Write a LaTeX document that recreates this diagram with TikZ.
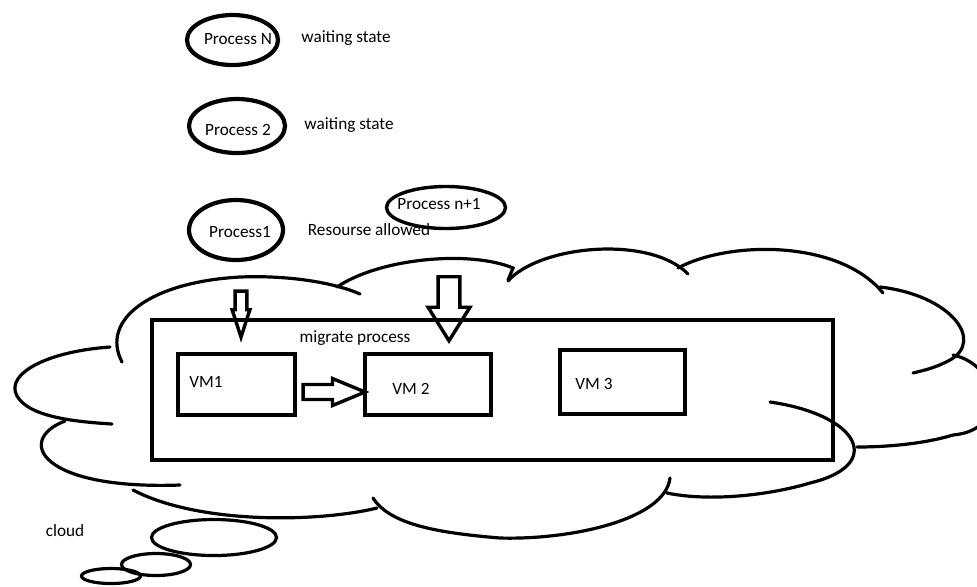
\documentclass[tikz,border=0pt]{standalone}
\usepackage{fontspec}
\setmainfont{Carlito}
\usetikzlibrary{shapes.geometric,shapes.arrows}

\tikzset{
    proc/.style={ellipse, draw, line width=2.1pt, inner sep=0pt},
    bubble/.style={ellipse, draw, line width=1.6pt, inner sep=0pt},
    vmbox/.style={draw, line width=2.2pt, inner sep=0pt},
    txt/.style={inner sep=0pt, anchor=base},
    hollow/.style={single arrow, draw, line width=1.7pt, inner xsep=0pt,
        single arrow head indent=0pt},
    cloudline/.style={line width=1.6pt, line cap=round},
}

\begin{document}
\begin{tikzpicture}[x=0.5pt, y=-0.5pt, font=\fontsize{8.6}{10}\selectfont]
    \useasboundingbox (0,0) rectangle (977,586);
    \clip (0,0) rectangle (977,586);

    % processes
    \node[proc, minimum width=45.5pt, minimum height=25pt] (pN) at (232.5,40) {};
    \node[proc, minimum width=48pt, minimum height=27pt] (p2) at (237,126) {};
    \node[proc, minimum width=47pt, minimum height=30pt] (p1) at (236,230) {};
    \node[proc, line width=1.7pt, minimum width=59.5pt, minimum height=21pt] (pn1) at (446,207.5) {};
    \node[txt] (pNt) at (238,44) {Process N};
    \node[txt] (p2t) at (238,135) {Process 2};
    \node[txt] (p1t) at (240,237) {Process1};
    \node[txt] (pn1t) at (439,209) {Process n+1};
    \node[txt] (waitN) at (346,42) {waiting state};
    \node[txt] (wait2) at (349,129) {waiting state};
    \node[txt] (allow) at (369,235) {Resourse allowed};

    % cloud
    \begin{scope}[cloudline]
    \draw (122,362) .. controls (100,320) and (150,282) .. (240,277)
          .. controls (290,275) and (335,283) .. (360,294);
    \draw (337,287) .. controls (380,258) and (470,250) .. (513,268) -- (508,280);
    \draw (508,281) .. controls (540,245) and (650,235) .. (688,274);
    \draw (678,268) .. controls (730,240) and (840,240) .. (883,293);
    \draw (880,287) .. controls (950,295) and (985,340) .. (950,360)
          .. controls (935,368) and (925,370) .. (913,373);
    \draw (953,355) .. controls (1000,365) and (1010,430) .. (953,435)
          .. controls (920,445) and (880,447) .. (857,447);
    \draw (770,402) .. controls (860,415) and (885,465) .. (810,483)
          .. controls (770,495) and (710,502) .. (667,493);
    \draw (670,478) .. controls (665,520) and (570,540) .. (500,538)
          .. controls (440,533) and (390,525) .. (373,498);
    \draw (377,508) .. controls (320,522) and (200,525) .. (133,490);
    \draw (65,421) .. controls (15,440) and (40,490) .. (180,485);
    \draw (110,347) .. controls (40,352) and (0,378) .. (20,400)
          .. controls (35,418) and (80,422) .. (112,424);
    \end{scope}
    \node[bubble, minimum width=62.5pt, minimum height=18pt] (bub1) at (214,537.5) {};
    \node[bubble, minimum width=34.5pt, minimum height=11pt] (bub2) at (156,564.5) {};
    \node[bubble, minimum width=29.5pt, minimum height=7.5pt] (bub3) at (111,576) {};
    \node[txt] (cloudt) at (65,536) {cloud};

    % machines
    \node[vmbox, line width=2.3pt, minimum width=340.5pt, minimum height=70pt] (migbox) at (492.5,390) {};
    \node[vmbox, minimum width=58.5pt, minimum height=30.5pt] (vm1) at (236.5,384.5) {};
    \node[vmbox, minimum width=63pt, minimum height=30.5pt] (vm2) at (428,384.5) {};
    \node[vmbox, minimum width=62.5pt, minimum height=32pt] (vm3) at (622.5,382) {};
    \node[txt] (migr) at (355,342) {migrate process};
    \node[txt] (vm1t) at (206,387) {VM1};
    \node[txt] (vm2t) at (411,394) {VM 2};
    \node[txt] (vm3t) at (594,389) {VM 3};

    % block arrows
    \node[hollow, rotate=-90, minimum height=23pt, inner ysep=2.1pt,
        single arrow head extend=1.5pt, single arrow tip angle=36] (arrA) at (241,305) {};
    \node[hollow, rotate=-90, minimum height=32pt, inner ysep=4.6pt,
        single arrow head extend=5pt, single arrow tip angle=64] (arrB) at (449,300) {};
    \node[hollow, minimum height=31pt, inner ysep=2.9pt,
        single arrow head extend=3pt, single arrow tip angle=45] (arrC) at (325,392) {};
\end{tikzpicture}
\end{document}
